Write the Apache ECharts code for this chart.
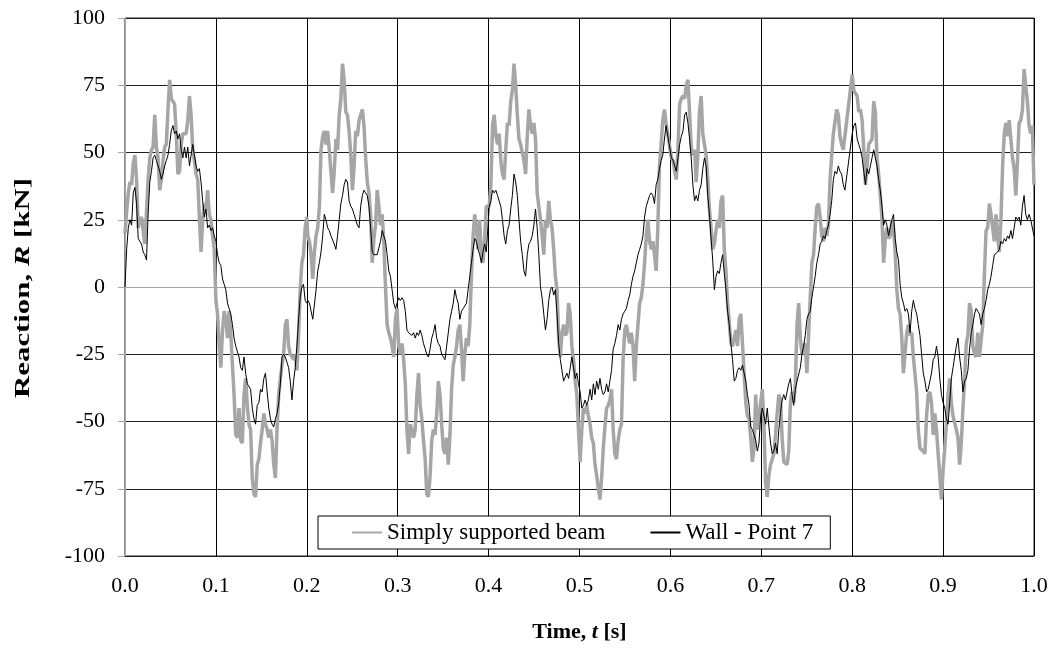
<!DOCTYPE html>
<html>
<head>
<meta charset="utf-8">
<script src="https://cdn.jsdelivr.net/npm/echarts@6/dist/echarts.min.js"></script>
<style>
html,body{margin:0;padding:0;background:#fff;}
#chart{width:1059px;height:648px;}
</style>
</head>
<body>
<div id="chart"></div>
<script>
// ---- DATA ----
const xTicks = ['0.0','0.1','0.2','0.3','0.4','0.5','0.6','0.7','0.8','0.9','1.0'];
const yTicks = [-100,-75,-50,-25,0,25,50,75,100];
const seriesNames = ['Simply supported beam','Wall - Point 7'];

// sampling: five traced segments, constant sample step (s)
const sampleStep = 1/550;
const segmentStart = [0, 0.2011, 0.4007, 0.6011, 0.8];
const segmentCount = [111, 109, 108, 106, 111];

// Simply supported beam [kN]
const beamValues = [
 20,28,35,39,38,46,49,40,22,25, 26,21,16,28,40,48,51,52,64,52, 48,36,40,47,52,53,66,77,70,69,
 68,57,42,43,53,57,57,57,62,71, 64,51,47,42,40,26,13,25,31,29, 36,27,25,19,14,-5,-10,-22,-30,-16,
 -9,-12,-19,-9,-17,-29,-40,-55,-56,-45, -57,-58,-40,-34,-44,-51,-53,-71,-77,-78, -66,-64,-58,-53,-47,-51,-53,-56,-53,-57,
 -66,-71,-53,-40,-34,-29,-25,-14,-12,-22, -25,-26,-27,-25,-31,-18,-1,9,12,22, 26,
 19,17,12,3,13,19,22,30,51,56, 58,53,58,51,43,35,43,55,51,64, 70,83,77,65,64,58,49,36,45,58,
 56,62,64,66,60,48,39,35,27,9, 18,23,36,30,23,27,17,0,-14,-17, -19,-22,-26,-12,-8,-22,-25,-21,-27,-36,
 -53,-62,-51,-53,-56,-53,-40,-32,-44,-49, -57,-64,-77,-78,-70,-57,-53,-55,-47,-35, -40,-51,-60,-62,-56,-66,-55,-38,-29,-26,
 -22,-16,-14,-23,-35,-25,-19,-22,-14,4, 19,27,22,14,25,12,9,18,30,
 30,38,60,64,56,53,57,47,42,40, 51,61,60,69,73,83,75,64,55,53, 53,47,42,56,66,60,57,61,55,35,
 30,25,19,12,25,22,32,25,22,14, 4,-1,-19,-26,-17,-14,-18,-17,-6,-10, -22,-27,-35,-40,-53,-65,-53,-45,-47,-44,
 -48,-51,-56,-58,-66,-70,-75,-79,-71,-60, -52,-45,-44,-42,-38,-53,-62,-64,-57,-53, -51,-27,-16,-14,-18,-21,-17,-22,-35,-22,
 -14,-6,-4,1,9,19,25,17,14,17, 12,6,22,45,53,62,66,61,
 48,47,43,40,52,68,70,71,70,75, 77,65,52,49,51,39,49,65,71,57, 53,49,40,29,22,14,16,21,25,22,
 32,34,14,6,-6,-13,-21,-22,-19,-16, -22,-12,-10,-21,-32,-43,-48,-49,-56,-65, -60,-40,-53,-48,-43,-38,-51,-73,-78,-70,
 -66,-64,-62,-55,-47,-40,-42,-56,-65,-65, -66,-61,-43,-39,-43,-36,-14,-6,-19,-25, -22,-21,-32,-18,-4,9,12,22,30,31,
 26,19,17,22,19,23,40,49,57,57, 66,64,56,53,51,51,
 79,73,73,71,65,66,62,51,38,45, 53,53,55,69,65,48,42,34,26,9, 18,22,18,19,25,22,13,-1,-8,-10,
 -19,-32,-32,-17,-14,-18,-17,-26,-26,-39, -53,-60,-60,-61,-62,-48,-40,-39,-43,-55, -47,-53,-62,-70,-79,-68,-60,-51,-40,-34,
 -43,-48,-48,-53,-56,-66,-58,-45,-35,-21, -18,-6,-9,-22,-25,-26,-17,-26,-26,-14, 5,21,22,31,27,22,17,27,19,13,
 25,45,57,61,56,62,55,48,44,34, 47,61,62,66,81,81,69,60,57,60, 38
];

// Wall - Point 7 [kN]
const wallValues = [
 0,14,22,25,23,35,37,31,18,17, 16,13,12,10,27,39,43,48,49,47, 45,43,40,42,45,47,49,53,58,60,
 57,58,55,57,51,48,52,48,52,45, 49,53,49,45,43,44,39,32,26,29, 22,23,21,22,19,17,12,9,8,3,
 1,-1,-6,-8,-10,-14,-19,-22,-22,-26, -30,-31,-26,-32,-36,-36,-38,-45,-49,-51, -44,-43,-38,-39,-34,-32,-39,-45,-49,-51,
 -52,-49,-47,-43,-36,-26,-25,-26,-26,-30, -35,-42,-35,-30,-22,-12,-4,0,1,-5, -6,
 -5,-6,-6,-12,-12,-1,6,9,13,19, 27,25,22,21,19,19,16,14,19,25, 31,34,38,40,39,32,30,29,27,25,
 23,22,30,34,36,35,34,30,22,13, 12,12,12,12,17,21,19,17,12,6, 4,-1,-6,-8,-8,-4,-5,-4,-5,-9,
 -16,-17,-17,-18,-17,-19,-17,-18,-16,-18, -21,-23,-25,-26,-23,-19,-17,-14,-19,-21, -22,-25,-26,-27,-22,-17,-12,-9,-6,-1,
 -4,-6,-12,-9,-8,-8,-6,-1,4,9, 14,18,17,14,12,9,13,16,13,
 30,32,36,35,36,34,34,30,25,19, 16,21,23,29,34,42,39,34,25,17, 12,6,4,12,16,17,19,23,29,22,
 12,0,-4,-10,-16,-12,-5,-1,0,-3, -1,-10,-21,-27,-31,-35,-35,-32,-34,-30, -26,-30,-34,-32,-36,-39,-45,-44,-42,-44,
 -42,-38,-42,-36,-40,-35,-38,-34,-38,-40, -39,-36,-39,-35,-31,-23,-21,-18,-14,-16, -12,-10,-9,-8,-5,-3,1,4,6,9,
 12,14,16,19,26,30,32,34,35,34, 31,38,40,44,47,49,55,60,
 48,47,45,43,48,53,56,58,64,65, 61,55,48,38,32,34,32,36,38,44, 48,45,34,27,18,10,-1,4,6,5,
 9,12,5,-1,-9,-14,-21,-27,-35,-34, -31,-30,-31,-29,-32,-35,-40,-44,-52,-53, -55,-57,-61,-58,-48,-45,-48,-51,-45,-52,
 -58,-62,-61,-58,-62,-53,-47,-42,-40,-42, -39,-36,-34,-40,-44,-38,-35,-35,-30,-25, -22,-18,-12,-10,-9,-4,0,4,9,12,
 16,17,19,18,21,23,27,32,40,43, 42,45,43,42,38,36,
 57,60,61,55,53,51,48,43,38,44, 42,45,48,51,48,45,40,36,30,23, 25,23,19,22,25,27,18,13,10,1,
 -4,-6,-9,-8,-10,-17,-9,-5,-8,-10, -14,-18,-25,-32,-35,-39,-38,-35,-32,-27, -26,-22,-26,-34,-40,-43,-45,-49,-51,-43,
 -34,-30,-26,-22,-19,-26,-31,-39,-35,-34, -31,-23,-17,-14,-10,-8,-9,-10,-14,-10, -8,-5,-1,1,4,8,12,12,13,14,
 17,16,18,17,19,18,21,18,22,26, 25,26,23,30,34,27,25,27,25,22, 19
];

// ---- build sample times from the segment sampling ----
const sampleTimes = [];
segmentStart.forEach((s, k) => {
  for (let j = 0; j < segmentCount[k]; j++) sampleTimes.push(Math.min(1, s + j * sampleStep));
});
const beamData = sampleTimes.map((t, i) => [t, beamValues[i]]);
const wallData = sampleTimes.map((t, i) => [t, wallValues[i]]);

const FONT = 'Liberation Serif';
const chart = echarts.init(document.getElementById('chart'), null, {renderer: 'canvas'});
const gridColor = '#1f1f1f';
const splitColors = yTicks.map(v => v === 0 ? '#a6a6a6' : gridColor);
const titleRich = {
  b: {fontFamily: FONT, fontSize: 22, fontWeight: 'bold', fill: '#000', color: '#000'},
  bi: {fontFamily: FONT, fontSize: 22, fontWeight: 'bold', fontStyle: 'italic', fill: '#000', color: '#000'}
};

chart.setOption({
  animation: false,
  backgroundColor: '#fff',
  grid: {left: 125, right: 25, top: 18, bottom: 91, show: true, borderColor: gridColor, borderWidth: 1, backgroundColor: 'transparent'},
  legend: {
    left: 318, top: 516,
    itemWidth: 30, itemHeight: 14, itemGap: 44,
    padding: [5, 17, 5, 33],
    backgroundColor: '#fff', borderColor: '#000', borderWidth: 1,
    itemStyle: {opacity: 0},
    textStyle: {fontFamily: FONT, fontSize: 23, color: '#000'},
    data: seriesNames
  },
  graphic: [{
    type: 'text', x: 23, y: 288, rotation: Math.PI / 2, scaleX: 1.4, scaleY: 1,
    style: {text: '{b|Reaction, }{bi|R}{b| [kN]}', rich: titleRich, align: 'center', verticalAlign: 'middle',
            fontFamily: FONT, fontSize: 22, fontWeight: 'bold', fill: '#000'}
  }],
  xAxis: {
    type: 'value', min: 0, max: 1, interval: 0.1,
    name: '{b|Time, }{bi|t}{b| [s]}', nameLocation: 'middle', nameGap: 65,
    nameTextStyle: {rich: titleRich},
    axisLine: {onZero: false, lineStyle: {color: gridColor, width: 1}},
    axisTick: {show: false},
    axisLabel: {fontFamily: FONT, fontSize: 22, color: '#000', margin: 19,
      formatter: (v) => xTicks[Math.round(v * 10)]},
    splitLine: {show: true, lineStyle: {color: '#000', width: 1}}
  },
  yAxis: {
    type: 'value', min: -100, max: 100, interval: 25,
    axisLine: {show: true, onZero: false, lineStyle: {color: '#a6a6a6', width: 1}},
    axisTick: {show: true, length: 7, inside: false, lineStyle: {color: '#a6a6a6'}},
    axisLabel: {fontFamily: FONT, fontSize: 22, color: '#000', margin: 20,
      formatter: (v) => String(v)},
    splitLine: {show: true, lineStyle: {color: splitColors, width: 1}}
  },
  series: [
    {name: seriesNames[0], type: 'line', data: beamData, showSymbol: false, symbol: 'none',
     lineStyle: {color: '#a6a6a6', width: 3.5}, itemStyle: {color: '#a6a6a6'}, z: 2},
    {name: seriesNames[1], type: 'line', data: wallData, showSymbol: false, symbol: 'none',
     lineStyle: {color: '#000', width: 1}, itemStyle: {color: '#000'}, z: 3}
  ]
});
</script>
</body>
</html>
